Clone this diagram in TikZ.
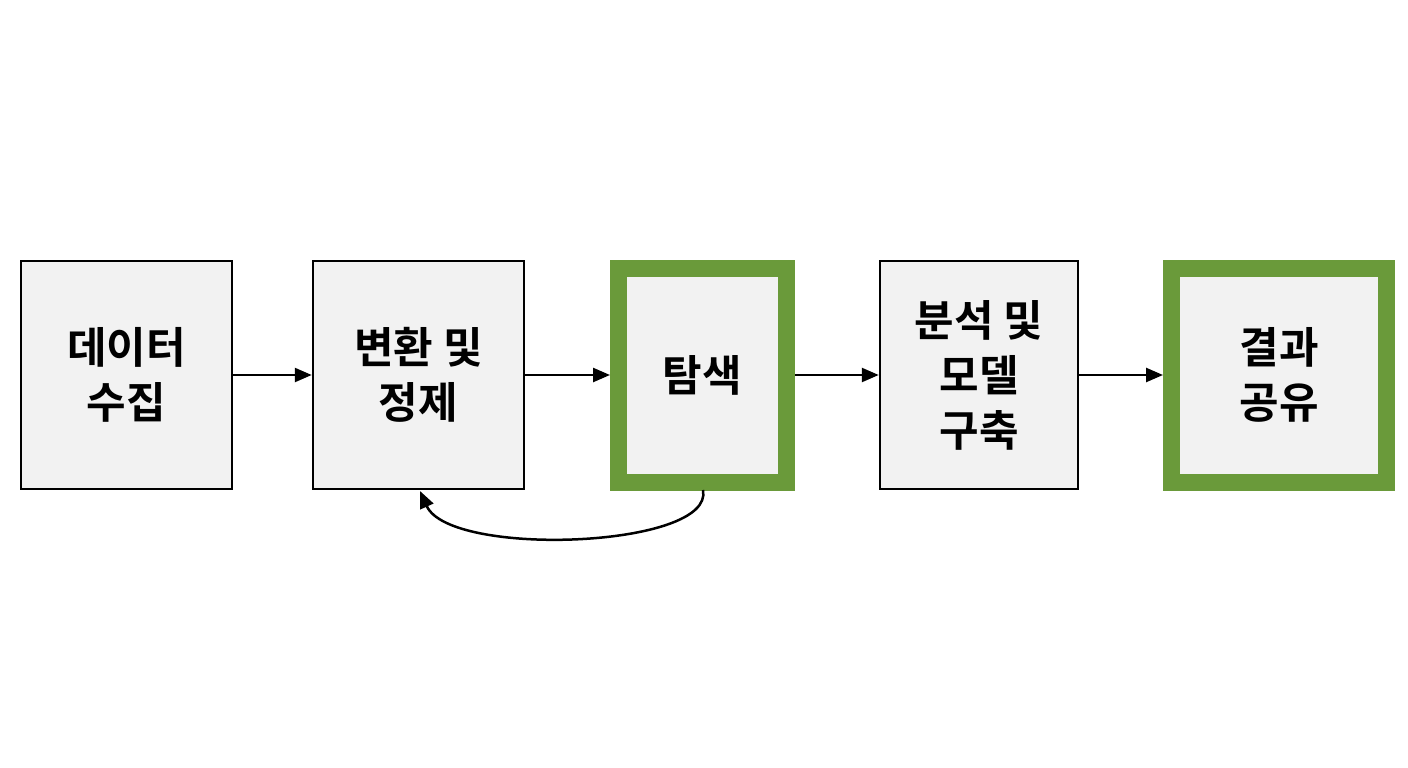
\documentclass[tikz,border=0pt]{standalone}
\usepackage{fontspec}
\newfontfamily\kr{Noto Sans CJK KR}[BoldFont={Noto Sans CJK KR Bold}]
\usetikzlibrary{arrows.meta}
\definecolor{gfill}{HTML}{F2F2F2}
\definecolor{grn}{HTML}{6A9A3A}
\begin{document}
\begin{tikzpicture}[x=1pt,y=-1pt,
  box/.style={draw=black,line width=2.5pt,fill=gfill,inner sep=0pt,align=center,font=\kr\bfseries\fontsize{43}{55}\selectfont},
  gbox/.style={box,draw=grn,line width=17pt},
  arr/.style={-{Triangle[length=17pt,width=14pt]},line width=2.5pt}]
\useasboundingbox (0,0) rectangle (1408,768);
\node[box,minimum width=211pt,minimum height=228pt] (a) at (126.5,375) {데이터\\수집};
\node[box,minimum width=211pt,minimum height=228pt] (b) at (418.5,375) {변환 및\\정제};
\node[gbox,minimum width=168pt,minimum height=214pt] (c) at (702.5,375) {탐색};
\node[box,minimum width=198pt,minimum height=228pt] (d) at (979,375) {분석 및\\모델\\구축};
\node[gbox,minimum width=215pt,minimum height=214pt] (e) at (1279,375) {결과\\공유};
\draw[arr] (a.east) -- (b.west);
\draw[arr] (b.east) -- (c.west);
\draw[arr] (c.east) -- (d.west);
\draw[arr] (d.east) -- (e.west);
\coordinate (s) at (703,490);
\coordinate (t) at (420,491);
\draw[arr] (s) .. controls (715,548) and (450,558) .. (t);
\end{tikzpicture}
\end{document}
